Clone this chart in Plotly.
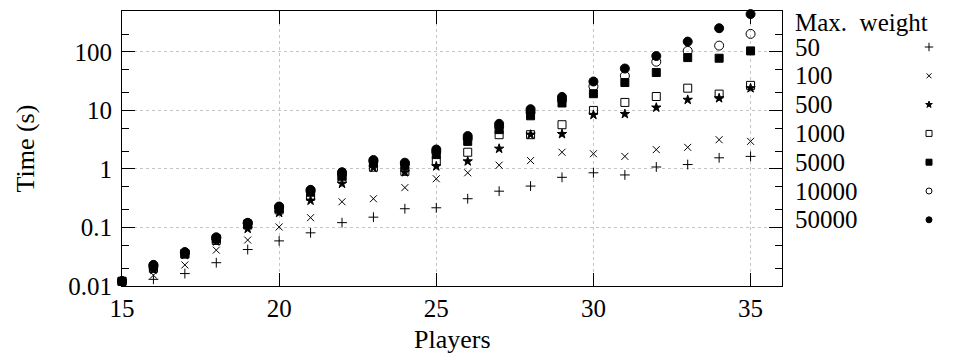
import plotly.graph_objects as go
import math

# ---------------- data ----------------
players = list(range(15, 36))
weights = ["50", "100", "500", "1000", "5000", "10000", "50000"]

t_50 = [0.012, 0.013, 0.0163, 0.025, 0.042, 0.059, 0.081, 0.121, 0.15, 0.209, 0.217,
        0.31, 0.417, 0.51, 0.72, 0.86, 0.79, 1.08, 1.19, 1.55, 1.64]
t_100 = [0.012, 0.0153, 0.0229, 0.041, 0.061, 0.102, 0.147, 0.275, 0.31, 0.48, 0.68,
         0.86, 1.16, 1.39, 1.93, 1.82, 1.64, 2.14, 2.34, 3.16, 2.96]
t_500 = [0.012, 0.019, 0.034, 0.058, 0.095, 0.178, 0.288, 0.56, 1.05, 0.88, 1.11,
         1.35, 2.22, 3.86, 3.95, 8.4, 8.7, 11.2, 15.2, 16.2, 24.0]
t_1000 = [0.012, 0.020, 0.035, 0.060, 0.110, 0.200, 0.34, 0.68, 1.07, 0.91, 1.39,
          1.93, 3.85, 3.85, 5.7, 10.0, 13.7, 17.3, 24.0, 19.0, 26.8]
t_5000 = [0.012, 0.021, 0.036, 0.064, 0.115, 0.210, 0.40, 0.75, 1.30, 1.15, 1.76,
          2.96, 4.7, 8.1, 13.4, 19.3, 30.0, 44.4, 80.0, 78.0, 104.0]
t_10000 = [0.012, 0.022, 0.037, 0.066, 0.118, 0.220, 0.42, 0.82, 1.35, 1.22, 1.95,
           3.3, 5.3, 9.3, 15.0, 25.8, 39.0, 68.0, 104.0, 128.0, 203.0]
t_50000 = [0.0122, 0.023, 0.038, 0.068, 0.120, 0.228, 0.44, 0.88, 1.42, 1.28, 2.15,
           3.65, 5.9, 10.5, 17.0, 31.2, 52.0, 85.0, 150.0, 254.0, 443.0]

series = [t_50, t_100, t_500, t_1000, t_5000, t_10000, t_50000]

x_ticks = [15, 20, 25, 30, 35]
y_ticks = [0.01, 0.1, 1, 10, 100]
y_tick_text = ["0.01", "0.1", "1", "10", "100"]
y_minor = [0.02, 0.05, 0.2, 0.5, 2, 5, 20, 50, 200]

# ---------------- styles ----------------
W, H = 971, 356
FONT = "Liberation Serif"
symbols = ["cross-thin-open", "x-thin-open", "star", "square-open", "square",
           "circle-open", "circle"]
sizes = [7, 7, 7, 8, 8, 9, 9]
leg_sizes = [6, 5, 5, 6, 6, 6, 6]

# plot area in pixels
L, R, T, B = 122, 782, 11, 286

fig = go.Figure()
for name, ys, sym, sz in zip(weights, series, symbols, sizes):
    fig.add_trace(go.Scatter(
        x=players, y=ys, mode="markers", name=name, cliponaxis=False,
        marker=dict(symbol=sym, size=sz, color="black",
                    line=dict(color="black", width=1)),
        xaxis="x", yaxis="y", showlegend=False))

# custom legend (label left, symbol right) on an invisible overlay axis
leg_x0, leg_sym_x, leg_title_y, leg_y0, leg_dy = 793, 929, 22, 47, 28.8
for i, (name, sym, sz) in enumerate(zip(weights, symbols, leg_sizes)):
    yy = leg_y0 + i * leg_dy
    fig.add_trace(go.Scatter(
        x=[leg_sym_x], y=[yy], mode="markers", xaxis="x2", yaxis="y2",
        showlegend=False, hoverinfo="skip", cliponaxis=False,
        marker=dict(symbol=sym, size=sz, color="black",
                    line=dict(color="black", width=1))))
    fig.add_annotation(x=leg_x0, y=yy, xref="x2", yref="y2", text=name,
                       showarrow=False, xanchor="left", yanchor="middle",
                       font=dict(family=FONT, size=25, color="black"))
fig.add_annotation(x=leg_x0, y=leg_title_y, xref="x2", yref="y2", text="Max.  weight",
                   showarrow=False, xanchor="left", yanchor="middle",
                   font=dict(family=FONT, size=25, color="black"))

axis_common = dict(showline=True, linecolor="black", linewidth=1, mirror="ticks",
                   ticks="inside", ticklen=13, tickcolor="black", tickwidth=1,
                   showgrid=True, gridcolor="#c4c4c4", griddash="dot", gridwidth=1,
                   zeroline=False, automargin=False,
                   tickfont=dict(family=FONT, size=25, color="black"))

fig.update_layout(
    width=W, height=H,
    margin=dict(l=0, r=0, t=0, b=0, autoexpand=False),
    plot_bgcolor="white", paper_bgcolor="white",
    showlegend=False,
    xaxis=dict(domain=[L / W, R / W], range=[15, 36], tickvals=x_ticks,
               anchor="y", ticklabelstandoff=0, **axis_common),
    yaxis=dict(domain=[1 - B / H, 1 - T / H], type="log",
               range=[-2, math.log10(500)], tickvals=y_ticks, ticktext=y_tick_text,
               anchor="x", ticklabelstandoff=4,
               minor=dict(ticks="inside", ticklen=7, tickvals=y_minor,
                          tickcolor="black", showgrid=False),
               **axis_common),
    xaxis2=dict(domain=[790 / W, 1], range=[790, W], visible=False, anchor="y2",
                automargin=False),
    yaxis2=dict(domain=[0, 1], range=[H, 0], visible=False, anchor="x2",
                automargin=False),
)

fig.add_annotation(x=(L + R) / 2 / W, y=1 - 339 / H, xref="paper", yref="paper",
                   text="Players", showarrow=False, xanchor="center", yanchor="middle",
                   font=dict(family=FONT, size=26, color="black"))
fig.add_annotation(x=25 / W, y=1 - (T + B) / 2 / H, xref="paper", yref="paper",
                   text="Time (s)", showarrow=False, textangle=-90,
                   xanchor="center", yanchor="middle",
                   font=dict(family=FONT, size=26, color="black"))

fig.write_html("out.html")
